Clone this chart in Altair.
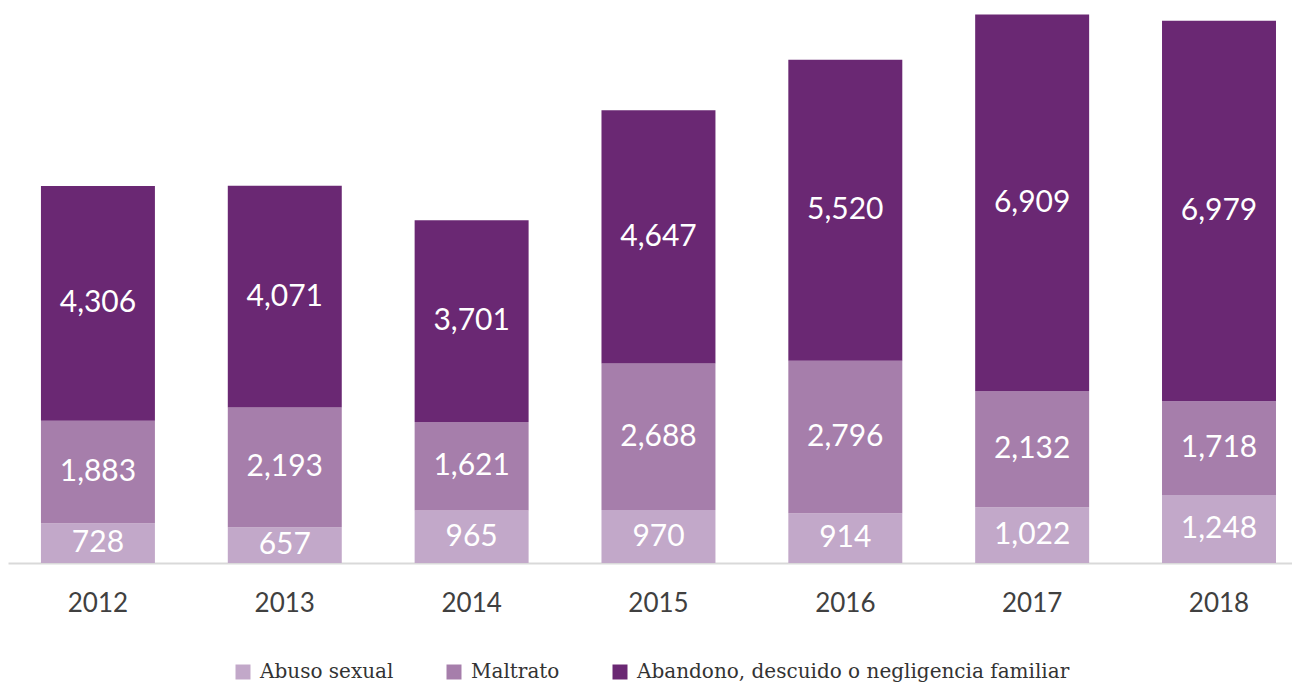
import altair as alt
import pandas as pd

years = ["2012", "2013", "2014", "2015", "2016", "2017", "2018"]
abuso = [728, 657, 965, 970, 914, 1022, 1248]
maltrato = [1883, 2193, 1621, 2688, 2796, 2132, 1718]
abandono = [4306, 4071, 3701, 4647, 5520, 6909, 6979]

categories = ["Abuso sexual", "Maltrato", "Abandono, descuido o negligencia familiar"]
colors = ["#C2A8C9", "#A67EAB", "#6A2873"]

rows = []
for i, y in enumerate(years):
    for k, (cat, vals) in enumerate(zip(categories, [abuso, maltrato, abandono])):
        rows.append({"year": y, "cat": cat, "order": k, "value": vals[i]})
df = pd.DataFrame(rows)

x = alt.X(
    "year:N",
    title=None,
    scale=alt.Scale(paddingInner=0.39, paddingOuter=0.131, align=0.673, round=False),
    axis=alt.Axis(
        labelAngle=0,
        labelFont="Lato",
        labelFontSize=26,
        labelColor="#404040",
        labelPadding=27,
        ticks=False,
        domainColor="#D9D9D9",
        domainWidth=2,
        grid=False,
    ),
)

base = alt.Chart(df).transform_stack(
    stack="value",
    groupby=["year"],
    as_=["y0", "y1"],
    sort=[alt.SortField("order", order="ascending")],
).transform_calculate(mid="(datum.y0 + datum.y1) / 2")

yscale = alt.Scale(domain=[0, 10180], nice=False)

bars = base.mark_bar().encode(
    x=x,
    y=alt.Y("y0:Q", scale=yscale, axis=None),
    y2="y1:Q",
    color=alt.Color(
        "cat:N",
        scale=alt.Scale(domain=categories, range=colors),
        legend=alt.Legend(
            title=None,
            orient="none",
            direction="horizontal",
            legendX=225,
            legendY=654,
            symbolType="square",
            symbolSize=225,
            symbolStrokeWidth=0,
            symbolOpacity=1,
            labelFont="DejaVu Serif",
            labelFontSize=20,
            labelColor="#333333",
            labelLimit=600,
            columnPadding=50,
            symbolOffset=0,
            labelOffset=7,
        ),
    ),
)

labels = base.mark_text(
    font="Lato", fontSize=30, color="white", baseline="middle"
).encode(
    x=x,
    y=alt.Y("mid:Q", scale=yscale, axis=None),
    text=alt.Text("value:Q", format=","),
)

chart = (
    alt.layer(bars, labels)
    .properties(
        width=1284,
        height=555,
        autosize=alt.AutoSizeParams(type="none"),
        padding={"left": 0, "top": 0, "right": 0, "bottom": 120},
    )
    .configure_view(stroke=None)
)

chart.save("out.html", embed_options={"renderer": "svg", "actions": False})
